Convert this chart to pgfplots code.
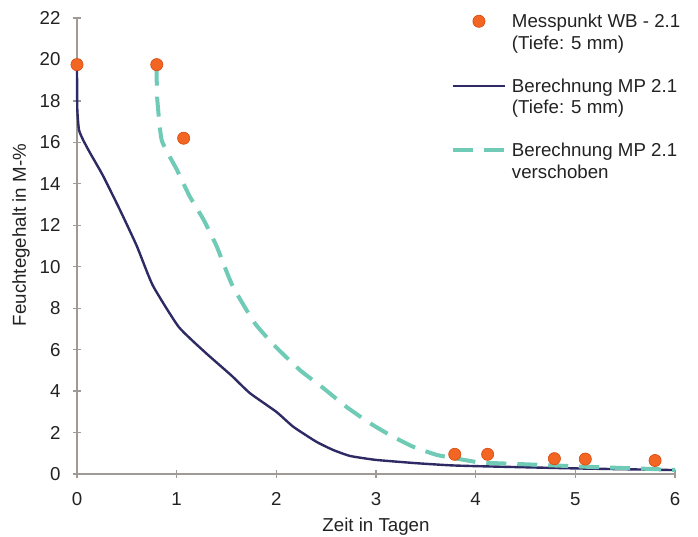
\documentclass[border=0pt]{standalone}
\usepackage{pgfplots}
\pgfplotsset{compat=1.18}
\usepackage{fontspec}
\setmainfont{Liberation Sans}

\definecolor{messorange}{HTML}{F26522}
\definecolor{messedge}{HTML}{D9480F}
\definecolor{calcnavy}{HTML}{2D2A64}
\definecolor{shiftteal}{HTML}{6FCBB6}
\definecolor{axisgray}{HTML}{A09A96}
\definecolor{textdark}{HTML}{222222}

\newcommand{\chartfont}{\fontsize{18.7}{21.5}\selectfont}
\newcommand{\twolines}[2]{\begin{tabular}[t]{@{}l@{}}#1\\#2\end{tabular}}

\begin{document}
\begin{tikzpicture}
\begin{axis}[
  scale only axis,
  width=598pt, height=456pt,
  xmin=0, xmax=6, ymin=0, ymax=22,
  xtick={0,1,...,6}, ytick={0,2,...,22},
  axis lines*=left,
  axis line style={axisgray, line width=1.4pt},
  tick style={axisgray, line width=1.2pt},
  tick align=center,
  major tick length=8pt,
  clip=false,
  /pgf/number format/assume math mode=true,
  tick label style={font=\chartfont, text=textdark},
  xticklabel style={yshift=-11pt},
  yticklabel style={xshift=-9pt},
  label style={font=\chartfont, text=textdark},
  xlabel={Zeit in Tagen},
  ylabel={Feuchtegehalt in M-\%},
  xlabel style={at={(axis description cs:0.5,0)}, anchor=center, yshift=-53pt},
  ylabel style={at={(axis description cs:-0.0936,0.524)}, anchor=center},
  legend style={
    at={(axis cs:3.75,22.36)}, anchor=north west,
    draw=none, fill=none,
    font=\chartfont, text=textdark,
    inner sep=0pt, row sep=44pt, column sep=3pt,
    cells={anchor=base west, inner sep=1pt},
  },
  legend image code/.code={%
    \draw[mark repeat=2, mark phase=2, #1]
      plot coordinates {(0pt,6.5pt) (26pt,6.5pt) (52pt,6.5pt)};},
]

% measured moisture content
\addplot[only marks, mark=*, mark size=6.1pt,
  mark options={fill=messorange, draw=messedge, line width=0.6pt}]
  coordinates {
  (0,19.75) (0.80,19.75) (1.07,16.2)
  (3.79,0.95) (4.12,0.95) (4.79,0.74) (5.10,0.72) (5.80,0.65)
};
\addlegendentry{\twolines{Messpunkt WB - 2.1}{(Tiefe: 5 mm)}}

% computed curve at 5 mm depth
\addplot[calcnavy, line width=2.4pt, line join=round, smooth, tension=0.3]
  coordinates {
  (0,19.7) (0.003,17.6) (0.02,16.6) (0.063,16.1) (0.13,15.5)
  (0.26,14.4) (0.43,12.75) (0.60,11.0) (0.76,9.1) (1.02,7.1)
  (1.29,5.85) (1.55,4.75) (1.735,3.9) (2.0,3.0) (2.17,2.28)
  (2.40,1.56) (2.57,1.16) (2.74,0.87) (3.0,0.68) (3.41,0.52)
  (3.74,0.42) (4.0,0.38) (5.0,0.27) (6.0,0.19)
};
\addlegendentry{\twolines{Berechnung MP 2.1}{(Tiefe: 5 mm)}}

% computed curve shifted in time
\addplot[shiftteal, line width=4pt, dash pattern=on 20pt off 11pt,
  smooth, tension=0.3] coordinates {
  (0.80,19.7) (0.80,19.0) (0.805,18.1) (0.85,16.1) (1.0,14.7)
  (1.13,13.4) (1.27,12.27) (1.40,11.0) (1.52,9.53) (1.58,8.9)
  (1.78,7.3) (1.98,6.2) (2.24,5.0) (2.47,4.15) (2.70,3.25)
  (2.94,2.45) (3.14,1.88) (3.37,1.32) (3.61,0.92) (3.78,0.77)
  (4.04,0.56) (4.44,0.48) (5.11,0.35) (5.78,0.24) (6.0,0.2)
};
\addlegendentry{\twolines{Berechnung MP 2.1}{verschoben}}

\end{axis}
\pgfresetboundingbox
\path[use as bounding box] (-77pt,-62pt) rectangle (621pt,474pt);
\end{tikzpicture}
\end{document}
